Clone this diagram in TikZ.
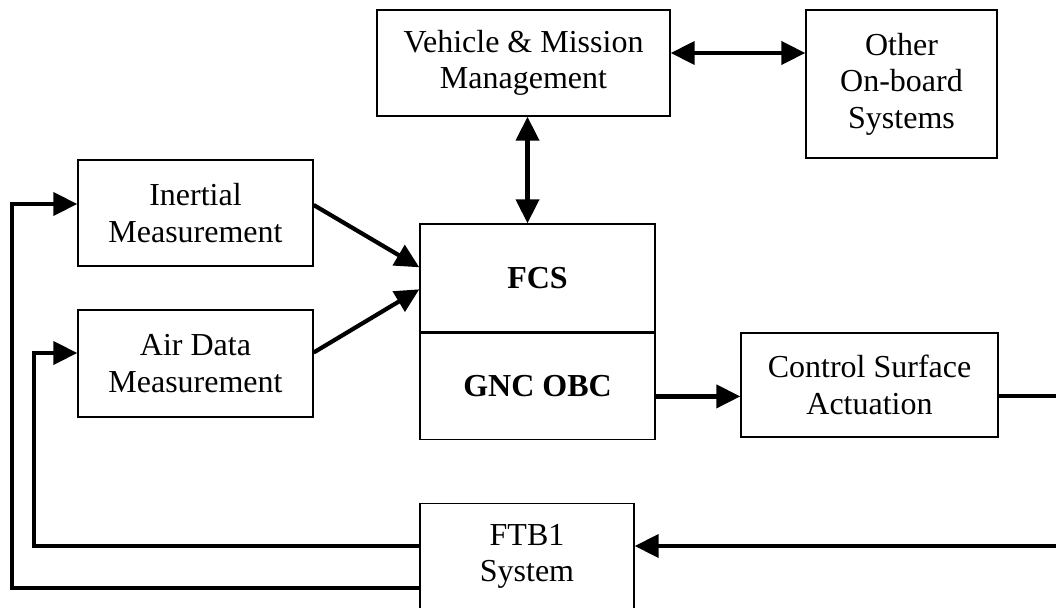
\documentclass[tikz,border=0pt]{standalone}
\usepackage{fontspec}
\setmainfont{Liberation Serif}
\usetikzlibrary{arrows.meta,positioning,calc}
\tikzset{
  block/.style={draw=black,line width=1.4pt,align=center,inner sep=0pt},
  conn/.style={line width=4.2pt,-{Triangle[length=24pt,width=23pt]}},
  biconn/.style={line width=4.2pt,{Triangle[length=24pt,width=23pt]}-{Triangle[length=24pt,width=23pt]}},
  plainline/.style={line width=4.2pt}
}
\begin{document}
\begin{tikzpicture}[x=1pt,y=-1pt,font=\fontsize{32}{36.5}\selectfont]
  \useasboundingbox (0,0) rectangle (1056,607);
  \clip (0,0) rectangle (1056,607);

  % Upper row.
  \node[block,minimum width=293pt,minimum height=106pt] (vmm) at (523.5,63)
    {Vehicle \& Mission\\Management};
  \node[block,minimum width=191pt,minimum height=148pt] (obs) at (901.5,84)
    {Other\\On-board\\Systems};

  % Sensors.
  \node[block,minimum width=235pt,minimum height=106pt] (ims) at (195.5,213)
    {Inertial\\Measurement};
  \node[block,minimum width=235pt,minimum height=107pt] (ads) at (195.5,363.5)
    {Air Data\\Measurement};

  % Computer.
  \node[block,minimum width=235pt,minimum height=108pt,font=\fontsize{32}{36.5}\selectfont\bfseries]
    (fcs) at (537.5,278) {FCS};
  \node[block,minimum width=235pt,minimum height=106pt,font=\fontsize{32}{36.5}\selectfont\bfseries,
    below=0pt of fcs] (gnc) {GNC OBC};

  \node[block,minimum width=257pt,minimum height=104pt] (csa) at (869.5,385)
    {Control Surface\\Actuation};

  % Test bed, cut by the lower edge.
  \node[block,minimum width=214pt,minimum height=150pt,anchor=north] (ftb) at (527,503) {};
  \node[align=center,anchor=north,inner sep=0pt] (ftbtext) at ($(ftb.north)+(0,21)$)
    {FTB1\\System};

  % Connectors.
  \coordinate (vmmdn) at ($(vmm.south)+(4,0)$);
  \coordinate (vmmrt) at ($(vmm.east)+(0,-10)$);
  \draw[biconn] (vmmdn) -- (vmmdn |- fcs.north);
  \draw[biconn] (vmmrt) -- (vmmrt -| obs.west);

  \draw[conn] ($(ims.east)+(0,-8)$) -- ($(fcs.north west)+(0,44)$);
  \draw[conn] ($(ads.east)+(0,-11)$) -- ($(fcs.north west)+(0,66)$);

  \coordinate (gncout) at ($(gnc.east)+(0,10)$);
  \draw[conn] (gncout) -- (gncout -| csa.west);

  \coordinate (csaout) at ($(csa.east)+(0,11)$);
  \coordinate (edgeA) at (1056,396);
  \coordinate (edgeB) at (1056,546);
  \draw[plainline] (csaout) -- (edgeA);
  \draw[conn] (edgeB) -- (edgeB -| ftb.east);

  % Feedback loops on the left.
  \coordinate (ftbout1) at ($(ftb.north west)+(0,43)$);
  \coordinate (ftbout2) at ($(ftb.north west)+(0,85)$);
  \coordinate (adsin) at ($(ads.west)+(0,-10.5)$);
  \coordinate (imsin) at ($(ims.west)+(0,-9)$);
  \draw[conn] (ftbout1) -| ($(adsin)+(-43,0)$) -- (adsin);
  \draw[conn] (ftbout2) -| ($(imsin)+(-65,0)$) -- (imsin);
\end{tikzpicture}
\end{document}
